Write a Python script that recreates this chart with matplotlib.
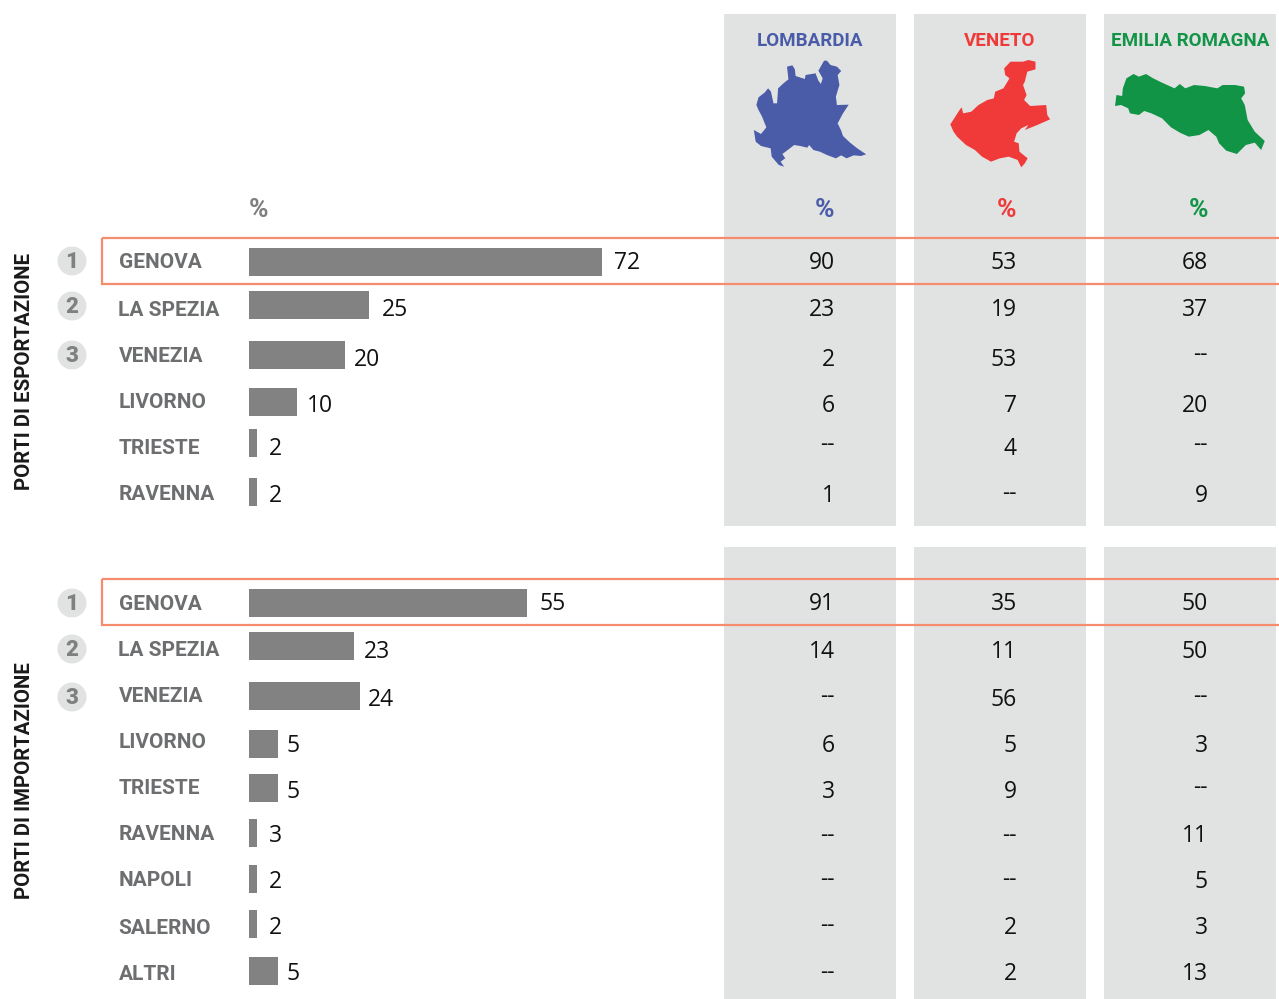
import matplotlib
matplotlib.use("Agg")
import matplotlib.pyplot as plt
from matplotlib.patches import Circle, Polygon, Rectangle

W, H = 1279, 999

ports_exp = ["GENOVA", "LA SPEZIA", "VENEZIA", "LIVORNO", "TRIESTE", "RAVENNA"]
total_exp = [72, 25, 20, 10, 2, 2]
lomb_exp = ["90", "23", "2", "6", "--", "1"]
vene_exp = ["53", "19", "53", "7", "4", "--"]
emil_exp = ["68", "37", "--", "20", "--", "9"]

ports_imp = ["GENOVA", "LA SPEZIA", "VENEZIA", "LIVORNO", "TRIESTE", "RAVENNA", "NAPOLI", "SALERNO", "ALTRI"]
total_imp = [55, 23, 24, 5, 5, 3, 2, 2, 5]
lomb_imp = ["91", "14", "--", "6", "3", "--", "--", "--", "--"]
vene_imp = ["35", "11", "56", "5", "9", "--", "--", "2", "2"]
emil_imp = ["50", "50", "--", "3", "--", "11", "5", "3", "13"]

# bar lengths as drawn in the picture, they are not quite in scale with the labels
length_exp = [70.6, 24, 19.2, 9.6, 1.6, 1.6]
length_imp = [55.6, 21, 22.2, 5.8, 5.8, 1.6, 1.6, 1.6, 5.8]

regions = ["LOMBARDIA", "VENETO", "EMILIA ROMAGNA"]
region_colors = ["#4a5ca8", "#f03a3a", "#129447"]

# region outlines, in pixels of the zoomed crop of the header
lombardia = [(95,360),(115,372),(130,352),(118,320),(108,300),(102,285),(108,262),(125,248),(135,235),(143,245),(150,280),(160,280),(163,235),(178,220),(192,208),(188,170),(203,166),(210,178),(212,198),(238,207),(240,195),(268,190),(276,212),(283,222),(288,205),(276,182),(285,165),(292,152),(300,152),(310,165),(328,170),(340,183),(330,195),(335,225),(325,260),(328,285),(361,284),(345,310),(330,340),(340,362),(345,378),(365,398),(385,415),(410,433),(395,438),(375,436),(355,445),(340,436),(325,445),(300,435),(280,425),(262,420),(250,405),(245,413),(225,408),(208,405),(190,420),(175,432),(183,445),(170,455),(180,470),(165,465),(145,440),(142,415),(115,408),(100,395)]
veneto = [(646,343),(660,320),(672,300),(678,292),(682,310),(705,305),(725,285),(750,270),(768,265),(772,245),(795,235),(812,205),(800,195),(797,175),(815,155),(850,155),(865,150),(885,155),(885,178),(862,185),(855,215),(850,225),(860,255),(853,270),(870,288),(915,285),(918,315),(926,328),(890,345),(855,360),(865,345),(845,355),(832,370),(825,395),(838,400),(840,425),(863,445),(855,460),(845,472),(835,450),(810,440),(785,445),(760,455),(735,440),(715,420),(690,405),(665,380),(655,365)]
emilia = [(1108,288),(1112,255),(1128,258),(1130,235),(1140,205),(1160,192),(1175,200),(1195,192),(1215,205),(1240,218),(1275,235),(1290,222),(1305,235),(1330,225),(1360,228),(1395,235),(1410,225),(1445,225),(1470,230),(1473,250),(1462,265),(1472,285),(1480,330),(1500,365),(1528,393),(1518,420),(1500,398),(1475,405),(1450,432),(1420,422),(1400,400),(1392,380),(1370,360),(1345,375),(1315,380),(1290,368),(1265,352),(1240,325),(1210,310),(1190,303),(1175,315),(1150,310),(1145,295),(1125,285)]
crop_sx = 2.805
crop_sy = 3.0

# layout, in pixels
name_y_exp = [263, 310, 356, 402, 448, 494]
bar_y_exp = [261.5, 305, 355, 402, 443, 492]
num_y_exp = [260.5, 307.5, 357, 403, 446.5, 493]
gap_exp = [12.4, 12.4, 8.4, 10.4, 11.4, 11.4]
dash_lift_exp = [0, 0, 4.5, 0, 4, 1]
name_y_imp = [604, 651, 697, 743, 789, 835, 881, 928, 974]
bar_y_imp = [602.5, 646, 696, 743.5, 787.5, 833, 879, 924, 970.5]
num_y_imp = [601.5, 649.5, 698, 744, 790, 833.5, 879.5, 925.5, 972]
gap_imp = [12.4, 9.4, 7.4, 8.4, 8.4, 12.4, 11.4, 11.4, 8.4]
dash_lift_imp = [0, 0, 3.5, 0, 4.5, 0.5, 1.5, 1.5, 1.5]
bar_h = 28
bar_left = 249
px_per_pct = 5.0
panel_x = [724, 914, 1104]
panel_w = 172
num_right = [835, 1017, 1208]
title_x = [810, 1000, 1190]
pct_x = [824, 1007, 1198]
medal_y = [[261, 306, 355], [603, 649, 697]]

GREY_TEXT = "#6d6e70"
NAME_FONT = "Roboto"
NUM_FONT = "Open Sans"

fig = plt.figure(figsize=(W / 100, H / 100), dpi=100)
ax = fig.add_axes([0, 0, 1, 1])
ax.set_xlim(0, W)
ax.set_ylim(H, 0)
ax.axis("off")

# bars get their own axes so the x scale is in percent
ax_bar = fig.add_axes([bar_left / W, 0, 1 - bar_left / W, 1], zorder=2)
ax_bar.set_xlim(0, (W - bar_left) / px_per_pct)
ax_bar.set_ylim(H, 0)
ax_bar.axis("off")


def draw_block(ports, totals, lengths, name_y, bar_y, num_y, gaps, dash_lift, columns, top, bottom, medals, box_y):
    for x in panel_x:
        ax.add_patch(Rectangle((x, top), panel_w, bottom - top, fc="#e1e3e3", ec="none", zorder=0))

    ax_bar.barh(bar_y, lengths, height=bar_h, color="#828282")

    for name, y in zip(ports, name_y):
        ax.text(118.5, y, name, family=NAME_FONT, weight="bold", fontsize=15, color=GREY_TEXT, va="center", ha="left")

    for total, length, y, gap in zip(totals, lengths, num_y, gaps):
        ax_bar.annotate(str(total), (length, y + 8.5), xytext=(gap, 0), textcoords="offset pixels",
                        family=NUM_FONT, fontsize=16.5, color="#111111", va="baseline", ha="left", annotation_clip=False)

    for col, values in enumerate(columns):
        for v, y, lift in zip(values, num_y, dash_lift):
            # the dashes do not sit on the same line as the digits in the reference
            y_text = y + 8.5 - lift if v == "--" else y + 8.5
            ax.text(num_right[col], y_text, v, family=NUM_FONT, fontsize=16.5, color="#111111", va="baseline", ha="right")

    for i, y in enumerate(medals):
        ax.add_patch(Circle((72, y), 14.5, fc="#e1e3e3", ec="none"))
        ax.text(72, y + 1, str(i + 1), family=NAME_FONT, weight="black", fontsize=16, color="#808080", va="center", ha="center")

    # highlight box, open past the right edge
    ax.add_patch(Rectangle((102, box_y), 1200, 46, fc="none", ec="#f58c6e", lw=1.6, zorder=3))


draw_block(ports_exp, total_exp, length_exp, name_y_exp, bar_y_exp, num_y_exp, gap_exp, dash_lift_exp,
           [lomb_exp, vene_exp, emil_exp], 14, 526, medal_y[0], 238)
draw_block(ports_imp, total_imp, length_imp, name_y_imp, bar_y_imp, num_y_imp, gap_imp, dash_lift_imp,
           [lomb_imp, vene_imp, emil_imp], 547, 999, medal_y[1], 579)

ax.text(25, 371, "PORTI DI ESPORTAZIONE", family=NAME_FONT, weight="bold", fontsize=14.7, color="#1a1a1a",
        rotation=90, va="center", ha="center")
ax.text(25, 781, "PORTI DI IMPORTAZIONE", family=NAME_FONT, weight="bold", fontsize=14.7, color="#1a1a1a",
        rotation=90, va="center", ha="center")

ax.text(258, 210, "%", family=NAME_FONT, weight="bold", fontsize=19, color="#7f7f7f", va="center", ha="center")

for i, region in enumerate(regions):
    ax.text(title_x[i], 41, region, family=NAME_FONT, weight="bold", fontsize=13.5, color=region_colors[i], va="center", ha="center")
    ax.text(pct_x[i], 210, "%", family=NAME_FONT, weight="bold", fontsize=19, color=region_colors[i], va="center", ha="center")

for outline, color in zip([lombardia, veneto, emilia], region_colors):
    ax.add_patch(Polygon([(720 + x / crop_sx, 10 + y / crop_sy) for x, y in outline], closed=True, fc=color, ec="none"))

fig.savefig("out.png", dpi=100)
